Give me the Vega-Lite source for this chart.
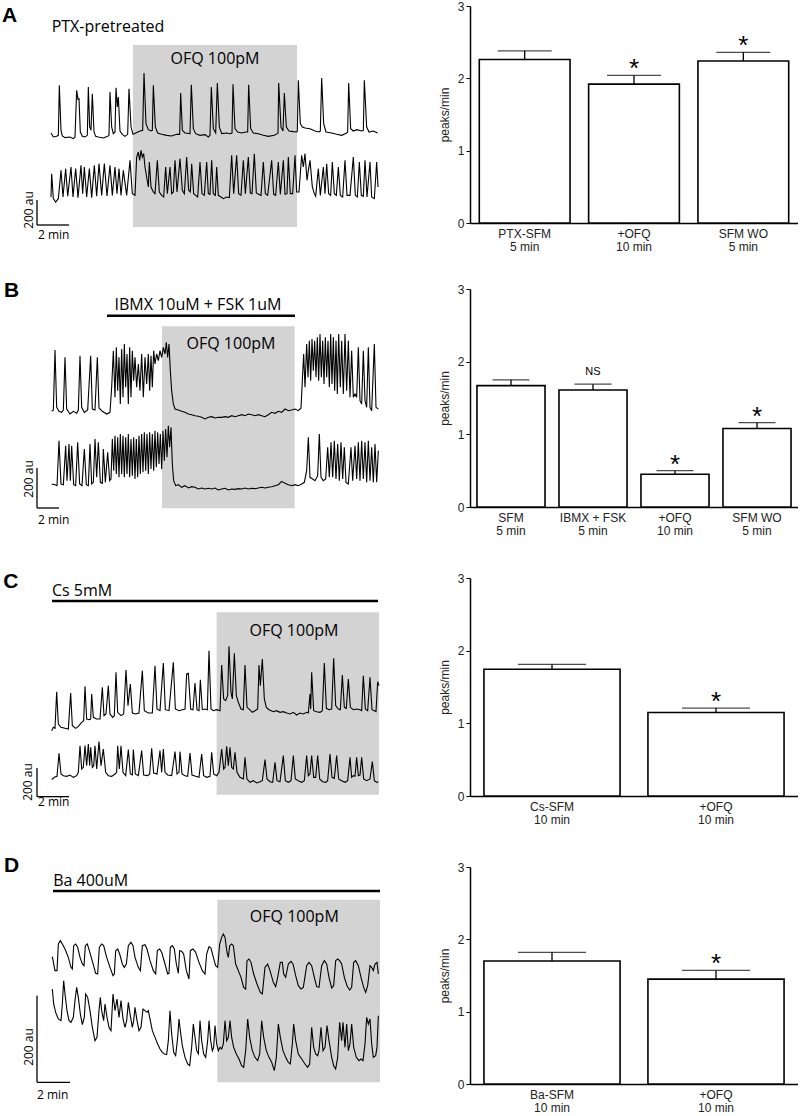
{
"$schema": "https://vega.github.io/schema/vega-lite/v6.json",
"padding": 0,
"bounds": "flush",
"columns": 2,
"spacing": {"row": 0, "column": 70},
"config": {"view": {"stroke": null}, "font": "Liberation Sans"},
"datasets": {
"a": [
{"s":1,"x":18,"y":222},{"s":1,"x":25,"y":210},{"s":1,"x":35,"y":212},{"s":1,"x":40,"y":215},{"s":1,"x":43,"y":365},{"s":1,"x":48,"y":230},{"s":1,"x":52,"y":213},{"s":1,"x":60,"y":208},{"s":1,"x":75,"y":210},{"s":1,"x":85,"y":205},{"s":1,"x":90,"y":210},{"s":1,"x":95,"y":350},{"s":1,"x":99,"y":323},{"s":1,"x":102,"y":325},{"s":1,"x":106,"y":225},{"s":1,"x":112,"y":212},{"s":1,"x":120,"y":210},{"s":1,"x":127,"y":215},{"s":1,"x":130,"y":360},{"s":1,"x":134,"y":240},{"s":1,"x":138,"y":230},{"s":1,"x":142,"y":340},{"s":1,"x":147,"y":225},{"s":1,"x":152,"y":212},{"s":1,"x":160,"y":210},{"s":1,"x":175,"y":207},{"s":1,"x":188,"y":212},{"s":1,"x":192,"y":215},{"s":1,"x":195,"y":345},{"s":1,"x":200,"y":240},{"s":1,"x":205,"y":220},{"s":1,"x":210,"y":225},{"s":1,"x":213,"y":358},{"s":1,"x":217,"y":300},{"s":1,"x":220,"y":330},{"s":1,"x":225,"y":228},{"s":1,"x":232,"y":218},{"s":1,"x":240,"y":212},{"s":1,"x":248,"y":218},{"s":1,"x":252,"y":355},{"s":1,"x":258,"y":240},{"s":1,"x":264,"y":218},{"s":1,"x":272,"y":222},{"s":1,"x":285,"y":228},{"s":1,"x":293,"y":230},{"s":1,"x":297,"y":402},{"s":1,"x":303,"y":250},{"s":1,"x":310,"y":232},{"s":1,"x":318,"y":228},{"s":1,"x":322,"y":230},{"s":1,"x":325,"y":365},{"s":1,"x":331,"y":240},{"s":1,"x":338,"y":222},{"s":1,"x":350,"y":218},{"s":1,"x":365,"y":215},{"s":1,"x":380,"y":213},{"s":1,"x":395,"y":218},{"s":1,"x":404,"y":218},{"s":1,"x":407,"y":342},{"s":1,"x":412,"y":230},{"s":1,"x":420,"y":222},{"s":1,"x":435,"y":220},{"s":1,"x":439,"y":367},{"s":1,"x":445,"y":235},{"s":1,"x":452,"y":220},{"s":1,"x":465,"y":215},{"s":1,"x":480,"y":217},{"s":1,"x":490,"y":210},{"s":1,"x":495,"y":215},{"s":1,"x":499,"y":360},{"s":1,"x":505,"y":235},{"s":1,"x":512,"y":222},{"s":1,"x":517,"y":372},{"s":1,"x":523,"y":240},{"s":1,"x":530,"y":220},{"s":1,"x":545,"y":222},{"s":1,"x":555,"y":220},{"s":1,"x":561,"y":222},{"s":1,"x":564,"y":368},{"s":1,"x":570,"y":235},{"s":1,"x":578,"y":225},{"s":1,"x":590,"y":222},{"s":1,"x":603,"y":225},{"s":1,"x":608,"y":225},{"s":1,"x":611,"y":367},{"s":1,"x":617,"y":235},{"s":1,"x":625,"y":222},{"s":1,"x":640,"y":220},{"s":1,"x":655,"y":215},{"s":1,"x":670,"y":212},{"s":1,"x":688,"y":215},{"s":1,"x":697,"y":220},{"s":1,"x":699,"y":222},{"s":1,"x":701,"y":372},{"s":1,"x":708,"y":240},{"s":1,"x":714,"y":228},{"s":1,"x":718,"y":342},{"s":1,"x":724,"y":240},{"s":1,"x":732,"y":228},{"s":1,"x":745,"y":226},{"s":1,"x":755,"y":225},{"s":1,"x":757,"y":228},{"s":1,"x":760,"y":380},{"s":1,"x":766,"y":250},{"s":1,"x":772,"y":240},{"s":1,"x":780,"y":237},{"s":1,"x":795,"y":235},{"s":1,"x":810,"y":228},{"s":1,"x":822,"y":225},{"s":1,"x":826,"y":228},{"s":1,"x":830,"y":387},{"s":1,"x":836,"y":250},{"s":1,"x":843,"y":225},{"s":1,"x":860,"y":222},{"s":1,"x":875,"y":218},{"s":1,"x":890,"y":215},{"s":1,"x":905,"y":222},{"s":1,"x":908,"y":225},{"s":1,"x":911,"y":372},{"s":1,"x":917,"y":235},{"s":1,"x":925,"y":228},{"s":1,"x":935,"y":232},{"s":1,"x":950,"y":228},{"s":1,"x":955,"y":230},{"s":1,"x":958,"y":380},{"s":1,"x":965,"y":240},{"s":1,"x":972,"y":225},{"s":1,"x":985,"y":228},{"s":1,"x":998,"y":222},
{"s":2,"x":18,"y":30},{"s":2,"x":20,"y":100},{"s":2,"x":25,"y":25},{"s":2,"x":32,"y":15},{"s":2,"x":40,"y":25},{"s":2,"x":48,"y":110},{"s":2,"x":54,"y":30},{"s":2,"x":62,"y":115},{"s":2,"x":68,"y":32},{"s":2,"x":78,"y":120},{"s":2,"x":84,"y":30},{"s":2,"x":92,"y":115},{"s":2,"x":99,"y":28},{"s":2,"x":108,"y":125},{"s":2,"x":113,"y":40},{"s":2,"x":118,"y":120},{"s":2,"x":125,"y":30},{"s":2,"x":133,"y":115},{"s":2,"x":140,"y":28},{"s":2,"x":148,"y":125},{"s":2,"x":155,"y":32},{"s":2,"x":162,"y":130},{"s":2,"x":170,"y":35},{"s":2,"x":178,"y":130},{"s":2,"x":186,"y":33},{"s":2,"x":195,"y":125},{"s":2,"x":202,"y":35},{"s":2,"x":210,"y":120},{"s":2,"x":216,"y":40},{"s":2,"x":222,"y":115},{"s":2,"x":228,"y":35},{"s":2,"x":235,"y":110},{"s":2,"x":245,"y":35},{"s":2,"x":255,"y":140},{"s":2,"x":262,"y":40},{"s":2,"x":270,"y":35},{"s":2,"x":275,"y":150},{"s":2,"x":280,"y":165},{"s":2,"x":284,"y":140},{"s":2,"x":288,"y":170},{"s":2,"x":292,"y":150},{"s":2,"x":296,"y":160},{"s":2,"x":300,"y":120},{"s":2,"x":305,"y":90},{"s":2,"x":310,"y":60},{"s":2,"x":313,"y":135},{"s":2,"x":318,"y":60},{"s":2,"x":325,"y":45},{"s":2,"x":330,"y":40},{"s":2,"x":337,"y":140},{"s":2,"x":343,"y":45},{"s":2,"x":350,"y":35},{"s":2,"x":356,"y":30},{"s":2,"x":362,"y":120},{"s":2,"x":367,"y":40},{"s":2,"x":375,"y":120},{"s":2,"x":380,"y":40},{"s":2,"x":385,"y":45},{"s":2,"x":390,"y":140},{"s":2,"x":396,"y":45},{"s":2,"x":405,"y":145},{"s":2,"x":412,"y":50},{"s":2,"x":418,"y":40},{"s":2,"x":425,"y":150},{"s":2,"x":431,"y":50},{"s":2,"x":436,"y":45},{"s":2,"x":440,"y":130},{"s":2,"x":446,"y":40},{"s":2,"x":452,"y":35},{"s":2,"x":458,"y":30},{"s":2,"x":465,"y":135},{"s":2,"x":471,"y":40},{"s":2,"x":478,"y":35},{"s":2,"x":485,"y":135},{"s":2,"x":490,"y":40},{"s":2,"x":495,"y":38},{"s":2,"x":500,"y":140},{"s":2,"x":505,"y":40},{"s":2,"x":511,"y":35},{"s":2,"x":515,"y":120},{"s":2,"x":520,"y":35},{"s":2,"x":528,"y":30},{"s":2,"x":535,"y":25},{"s":2,"x":545,"y":30},{"s":2,"x":553,"y":28},{"s":2,"x":560,"y":155},{"s":2,"x":566,"y":40},{"s":2,"x":575,"y":155},{"s":2,"x":581,"y":40},{"s":2,"x":588,"y":35},{"s":2,"x":595,"y":140},{"s":2,"x":601,"y":40},{"s":2,"x":610,"y":150},{"s":2,"x":616,"y":42},{"s":2,"x":621,"y":40},{"s":2,"x":628,"y":160},{"s":2,"x":634,"y":42},{"s":2,"x":641,"y":38},{"s":2,"x":648,"y":35},{"s":2,"x":655,"y":135},{"s":2,"x":661,"y":40},{"s":2,"x":668,"y":35},{"s":2,"x":680,"y":140},{"s":2,"x":686,"y":38},{"s":2,"x":692,"y":35},{"s":2,"x":700,"y":135},{"s":2,"x":706,"y":38},{"s":2,"x":715,"y":140},{"s":2,"x":720,"y":38},{"s":2,"x":726,"y":40},{"s":2,"x":730,"y":150},{"s":2,"x":736,"y":40},{"s":2,"x":743,"y":40},{"s":2,"x":750,"y":155},{"s":2,"x":755,"y":45},{"s":2,"x":762,"y":45},{"s":2,"x":770,"y":155},{"s":2,"x":775,"y":120},{"s":2,"x":780,"y":160},{"s":2,"x":786,"y":80},{"s":2,"x":790,"y":110},{"s":2,"x":795,"y":140},{"s":2,"x":802,"y":60},{"s":2,"x":808,"y":40},{"s":2,"x":812,"y":32},{"s":2,"x":820,"y":115},{"s":2,"x":826,"y":35},{"s":2,"x":835,"y":120},{"s":2,"x":840,"y":40},{"s":2,"x":845,"y":130},{"s":2,"x":851,"y":40},{"s":2,"x":857,"y":35},{"s":2,"x":862,"y":135},{"s":2,"x":868,"y":40},{"s":2,"x":874,"y":35},{"s":2,"x":880,"y":120},{"s":2,"x":886,"y":35},{"s":2,"x":893,"y":30},{"s":2,"x":900,"y":140},{"s":2,"x":906,"y":35},{"s":2,"x":915,"y":35},{"s":2,"x":925,"y":150},{"s":2,"x":931,"y":35},{"s":2,"x":937,"y":30},{"s":2,"x":943,"y":135},{"s":2,"x":949,"y":35},{"s":2,"x":955,"y":32},{"s":2,"x":960,"y":140},{"s":2,"x":966,"y":30},{"s":2,"x":975,"y":135},{"s":2,"x":980,"y":30},{"s":2,"x":988,"y":25},{"s":2,"x":995,"y":135},{"s":2,"x":999,"y":60}
],
"b": [
{"s":1,"x":20,"y":258},{"s":1,"x":25,"y":262},{"s":1,"x":30,"y":442},{"s":1,"x":35,"y":270},{"s":1,"x":42,"y":258},{"s":1,"x":50,"y":255},{"s":1,"x":55,"y":262},{"s":1,"x":60,"y":420},{"s":1,"x":65,"y":265},{"s":1,"x":75,"y":250},{"s":1,"x":85,"y":258},{"s":1,"x":95,"y":252},{"s":1,"x":100,"y":262},{"s":1,"x":105,"y":425},{"s":1,"x":110,"y":270},{"s":1,"x":118,"y":255},{"s":1,"x":128,"y":262},{"s":1,"x":137,"y":425},{"s":1,"x":142,"y":265},{"s":1,"x":150,"y":262},{"s":1,"x":157,"y":420},{"s":1,"x":162,"y":268},{"s":1,"x":172,"y":258},{"s":1,"x":185,"y":250},{"s":1,"x":195,"y":255},{"s":1,"x":200,"y":330},{"s":1,"x":205,"y":440},{"s":1,"x":210,"y":300},{"s":1,"x":214,"y":450},{"s":1,"x":218,"y":320},{"s":1,"x":222,"y":420},{"s":1,"x":226,"y":280},{"s":1,"x":230,"y":445},{"s":1,"x":234,"y":300},{"s":1,"x":238,"y":460},{"s":1,"x":242,"y":330},{"s":1,"x":246,"y":430},{"s":1,"x":250,"y":280},{"s":1,"x":254,"y":450},{"s":1,"x":258,"y":300},{"s":1,"x":262,"y":440},{"s":1,"x":266,"y":350},{"s":1,"x":270,"y":420},{"s":1,"x":275,"y":330},{"s":1,"x":280,"y":400},{"s":1,"x":285,"y":320},{"s":1,"x":290,"y":430},{"s":1,"x":295,"y":300},{"s":1,"x":300,"y":420},{"s":1,"x":305,"y":340},{"s":1,"x":310,"y":430},{"s":1,"x":314,"y":320},{"s":1,"x":318,"y":425},{"s":1,"x":322,"y":330},{"s":1,"x":326,"y":440},{"s":1,"x":330,"y":400},{"s":1,"x":335,"y":430},{"s":1,"x":340,"y":410},{"s":1,"x":345,"y":440},{"s":1,"x":350,"y":420},{"s":1,"x":355,"y":450},{"s":1,"x":360,"y":430},{"s":1,"x":364,"y":465},{"s":1,"x":368,"y":420},{"s":1,"x":372,"y":460},{"s":1,"x":376,"y":380},{"s":1,"x":380,"y":320},{"s":1,"x":385,"y":280},{"s":1,"x":390,"y":265},{"s":1,"x":400,"y":262},{"s":1,"x":410,"y":258},{"s":1,"x":420,"y":255},{"s":1,"x":430,"y":250},{"s":1,"x":440,"y":248},{"s":1,"x":450,"y":245},{"s":1,"x":460,"y":243},{"s":1,"x":470,"y":240},{"s":1,"x":480,"y":235},{"s":1,"x":490,"y":240},{"s":1,"x":500,"y":242},{"s":1,"x":510,"y":238},{"s":1,"x":520,"y":240},{"s":1,"x":530,"y":240},{"s":1,"x":540,"y":242},{"s":1,"x":550,"y":240},{"s":1,"x":560,"y":245},{"s":1,"x":570,"y":242},{"s":1,"x":580,"y":245},{"s":1,"x":590,"y":248},{"s":1,"x":600,"y":245},{"s":1,"x":610,"y":250},{"s":1,"x":620,"y":248},{"s":1,"x":630,"y":245},{"s":1,"x":640,"y":248},{"s":1,"x":650,"y":245},{"s":1,"x":660,"y":242},{"s":1,"x":670,"y":248},{"s":1,"x":680,"y":255},{"s":1,"x":690,"y":252},{"s":1,"x":700,"y":258},{"s":1,"x":710,"y":255},{"s":1,"x":720,"y":265},{"s":1,"x":730,"y":260},{"s":1,"x":740,"y":262},{"s":1,"x":750,"y":265},{"s":1,"x":760,"y":260},{"s":1,"x":768,"y":268},{"s":1,"x":772,"y":350},{"s":1,"x":776,"y":430},{"s":1,"x":780,"y":330},{"s":1,"x":785,"y":460},{"s":1,"x":789,"y":360},{"s":1,"x":793,"y":470},{"s":1,"x":797,"y":350},{"s":1,"x":801,"y":475},{"s":1,"x":805,"y":380},{"s":1,"x":809,"y":470},{"s":1,"x":813,"y":360},{"s":1,"x":817,"y":480},{"s":1,"x":821,"y":350},{"s":1,"x":825,"y":490},{"s":1,"x":829,"y":360},{"s":1,"x":833,"y":470},{"s":1,"x":837,"y":340},{"s":1,"x":841,"y":480},{"s":1,"x":845,"y":360},{"s":1,"x":849,"y":470},{"s":1,"x":853,"y":330},{"s":1,"x":857,"y":490},{"s":1,"x":861,"y":340},{"s":1,"x":865,"y":480},{"s":1,"x":869,"y":320},{"s":1,"x":873,"y":470},{"s":1,"x":877,"y":310},{"s":1,"x":881,"y":490},{"s":1,"x":886,"y":330},{"s":1,"x":890,"y":470},{"s":1,"x":895,"y":310},{"s":1,"x":900,"y":490},{"s":1,"x":905,"y":320},{"s":1,"x":910,"y":470},{"s":1,"x":915,"y":300},{"s":1,"x":920,"y":440},{"s":1,"x":925,"y":300},{"s":1,"x":930,"y":310},{"s":1,"x":935,"y":300},{"s":1,"x":940,"y":450},{"s":1,"x":945,"y":290},{"s":1,"x":950,"y":280},{"s":1,"x":955,"y":440},{"s":1,"x":960,"y":290},{"s":1,"x":965,"y":270},{"s":1,"x":970,"y":450},{"s":1,"x":975,"y":270},{"s":1,"x":980,"y":260},{"s":1,"x":988,"y":460},{"s":1,"x":993,"y":270},{"s":1,"x":1000,"y":265},
{"s":2,"x":20,"y":40},{"s":2,"x":30,"y":38},{"s":2,"x":36,"y":35},{"s":2,"x":42,"y":170},{"s":2,"x":48,"y":40},{"s":2,"x":55,"y":38},{"s":2,"x":62,"y":155},{"s":2,"x":66,"y":50},{"s":2,"x":72,"y":160},{"s":2,"x":76,"y":50},{"s":2,"x":80,"y":155},{"s":2,"x":86,"y":38},{"s":2,"x":92,"y":35},{"s":2,"x":98,"y":165},{"s":2,"x":104,"y":40},{"s":2,"x":111,"y":35},{"s":2,"x":118,"y":145},{"s":2,"x":124,"y":38},{"s":2,"x":130,"y":35},{"s":2,"x":135,"y":160},{"s":2,"x":140,"y":40},{"s":2,"x":145,"y":45},{"s":2,"x":150,"y":175},{"s":2,"x":155,"y":60},{"s":2,"x":160,"y":165},{"s":2,"x":166,"y":45},{"s":2,"x":172,"y":42},{"s":2,"x":175,"y":145},{"s":2,"x":181,"y":45},{"s":2,"x":188,"y":135},{"s":2,"x":194,"y":50},{"s":2,"x":198,"y":55},{"s":2,"x":202,"y":175},{"s":2,"x":206,"y":80},{"s":2,"x":210,"y":185},{"s":2,"x":214,"y":70},{"s":2,"x":218,"y":180},{"s":2,"x":222,"y":60},{"s":2,"x":226,"y":190},{"s":2,"x":230,"y":70},{"s":2,"x":234,"y":185},{"s":2,"x":238,"y":60},{"s":2,"x":242,"y":180},{"s":2,"x":246,"y":70},{"s":2,"x":250,"y":190},{"s":2,"x":254,"y":60},{"s":2,"x":258,"y":175},{"s":2,"x":262,"y":65},{"s":2,"x":266,"y":180},{"s":2,"x":270,"y":55},{"s":2,"x":274,"y":175},{"s":2,"x":278,"y":60},{"s":2,"x":282,"y":185},{"s":2,"x":286,"y":70},{"s":2,"x":290,"y":190},{"s":2,"x":294,"y":75},{"s":2,"x":298,"y":195},{"s":2,"x":302,"y":80},{"s":2,"x":306,"y":190},{"s":2,"x":310,"y":70},{"s":2,"x":314,"y":195},{"s":2,"x":318,"y":85},{"s":2,"x":322,"y":190},{"s":2,"x":326,"y":80},{"s":2,"x":330,"y":200},{"s":2,"x":334,"y":90},{"s":2,"x":338,"y":195},{"s":2,"x":342,"y":100},{"s":2,"x":346,"y":190},{"s":2,"x":350,"y":85},{"s":2,"x":354,"y":200},{"s":2,"x":358,"y":110},{"s":2,"x":362,"y":205},{"s":2,"x":366,"y":120},{"s":2,"x":370,"y":215},{"s":2,"x":374,"y":150},{"s":2,"x":378,"y":210},{"s":2,"x":382,"y":100},{"s":2,"x":386,"y":50},{"s":2,"x":392,"y":35},{"s":2,"x":400,"y":38},{"s":2,"x":410,"y":30},{"s":2,"x":420,"y":35},{"s":2,"x":430,"y":28},{"s":2,"x":440,"y":32},{"s":2,"x":450,"y":30},{"s":2,"x":460,"y":25},{"s":2,"x":470,"y":28},{"s":2,"x":480,"y":25},{"s":2,"x":490,"y":27},{"s":2,"x":500,"y":25},{"s":2,"x":510,"y":28},{"s":2,"x":520,"y":22},{"s":2,"x":530,"y":25},{"s":2,"x":540,"y":27},{"s":2,"x":550,"y":22},{"s":2,"x":560,"y":25},{"s":2,"x":570,"y":24},{"s":2,"x":580,"y":26},{"s":2,"x":590,"y":25},{"s":2,"x":600,"y":28},{"s":2,"x":610,"y":25},{"s":2,"x":620,"y":27},{"s":2,"x":630,"y":26},{"s":2,"x":640,"y":28},{"s":2,"x":650,"y":30},{"s":2,"x":660,"y":28},{"s":2,"x":670,"y":30},{"s":2,"x":680,"y":32},{"s":2,"x":690,"y":35},{"s":2,"x":700,"y":38},{"s":2,"x":710,"y":48},{"s":2,"x":720,"y":42},{"s":2,"x":730,"y":38},{"s":2,"x":740,"y":35},{"s":2,"x":750,"y":38},{"s":2,"x":760,"y":35},{"s":2,"x":770,"y":40},{"s":2,"x":778,"y":45},{"s":2,"x":785,"y":80},{"s":2,"x":790,"y":180},{"s":2,"x":795,"y":60},{"s":2,"x":803,"y":55},{"s":2,"x":810,"y":50},{"s":2,"x":818,"y":65},{"s":2,"x":823,"y":190},{"s":2,"x":828,"y":60},{"s":2,"x":835,"y":50},{"s":2,"x":842,"y":55},{"s":2,"x":848,"y":150},{"s":2,"x":853,"y":60},{"s":2,"x":858,"y":165},{"s":2,"x":863,"y":60},{"s":2,"x":868,"y":170},{"s":2,"x":873,"y":55},{"s":2,"x":878,"y":160},{"s":2,"x":883,"y":50},{"s":2,"x":888,"y":165},{"s":2,"x":893,"y":55},{"s":2,"x":898,"y":150},{"s":2,"x":903,"y":45},{"s":2,"x":910,"y":40},{"s":2,"x":918,"y":150},{"s":2,"x":923,"y":50},{"s":2,"x":930,"y":155},{"s":2,"x":935,"y":55},{"s":2,"x":940,"y":165},{"s":2,"x":945,"y":50},{"s":2,"x":950,"y":170},{"s":2,"x":955,"y":55},{"s":2,"x":960,"y":165},{"s":2,"x":965,"y":45},{"s":2,"x":970,"y":170},{"s":2,"x":975,"y":50},{"s":2,"x":980,"y":150},{"s":2,"x":985,"y":45},{"s":2,"x":990,"y":160},{"s":2,"x":995,"y":45},{"s":2,"x":1000,"y":140}
],
"c": [
{"s":1,"x":20,"y":165},{"s":1,"x":25,"y":175},{"s":1,"x":30,"y":172},{"s":1,"x":35,"y":282},{"s":1,"x":40,"y":185},{"s":1,"x":48,"y":175},{"s":1,"x":60,"y":172},{"s":1,"x":70,"y":170},{"s":1,"x":77,"y":278},{"s":1,"x":82,"y":180},{"s":1,"x":92,"y":172},{"s":1,"x":100,"y":178},{"s":1,"x":110,"y":190},{"s":1,"x":116,"y":195},{"s":1,"x":120,"y":298},{"s":1,"x":125,"y":200},{"s":1,"x":132,"y":198},{"s":1,"x":137,"y":200},{"s":1,"x":140,"y":275},{"s":1,"x":145,"y":205},{"s":1,"x":155,"y":200},{"s":1,"x":165,"y":200},{"s":1,"x":172,"y":295},{"s":1,"x":177,"y":210},{"s":1,"x":183,"y":215},{"s":1,"x":190,"y":300},{"s":1,"x":195,"y":215},{"s":1,"x":203,"y":205},{"s":1,"x":208,"y":210},{"s":1,"x":213,"y":340},{"s":1,"x":218,"y":220},{"s":1,"x":228,"y":210},{"s":1,"x":236,"y":215},{"s":1,"x":243,"y":347},{"s":1,"x":249,"y":240},{"s":1,"x":256,"y":305},{"s":1,"x":262,"y":218},{"s":1,"x":272,"y":215},{"s":1,"x":282,"y":218},{"s":1,"x":292,"y":345},{"s":1,"x":298,"y":225},{"s":1,"x":310,"y":218},{"s":1,"x":322,"y":218},{"s":1,"x":330,"y":360},{"s":1,"x":336,"y":230},{"s":1,"x":345,"y":225},{"s":1,"x":355,"y":368},{"s":1,"x":361,"y":228},{"s":1,"x":372,"y":225},{"s":1,"x":385,"y":370},{"s":1,"x":391,"y":230},{"s":1,"x":402,"y":225},{"s":1,"x":412,"y":228},{"s":1,"x":420,"y":230},{"s":1,"x":425,"y":335},{"s":1,"x":430,"y":337},{"s":1,"x":437,"y":230},{"s":1,"x":444,"y":228},{"s":1,"x":450,"y":308},{"s":1,"x":456,"y":228},{"s":1,"x":462,"y":225},{"s":1,"x":466,"y":318},{"s":1,"x":472,"y":228},{"s":1,"x":480,"y":230},{"s":1,"x":487,"y":228},{"s":1,"x":492,"y":405},{"s":1,"x":498,"y":230},{"s":1,"x":505,"y":225},{"s":1,"x":515,"y":228},{"s":1,"x":525,"y":225},{"s":1,"x":530,"y":362},{"s":1,"x":536,"y":260},{"s":1,"x":542,"y":255},{"s":1,"x":548,"y":270},{"s":1,"x":552,"y":418},{"s":1,"x":558,"y":280},{"s":1,"x":562,"y":260},{"s":1,"x":568,"y":397},{"s":1,"x":574,"y":270},{"s":1,"x":580,"y":250},{"s":1,"x":588,"y":230},{"s":1,"x":595,"y":228},{"s":1,"x":600,"y":362},{"s":1,"x":606,"y":235},{"s":1,"x":614,"y":228},{"s":1,"x":622,"y":220},{"s":1,"x":630,"y":225},{"s":1,"x":638,"y":230},{"s":1,"x":642,"y":362},{"s":1,"x":646,"y":300},{"s":1,"x":652,"y":380},{"s":1,"x":658,"y":260},{"s":1,"x":664,"y":235},{"s":1,"x":672,"y":228},{"s":1,"x":685,"y":222},{"s":1,"x":695,"y":225},{"s":1,"x":705,"y":220},{"s":1,"x":715,"y":222},{"s":1,"x":725,"y":218},{"s":1,"x":735,"y":215},{"s":1,"x":745,"y":220},{"s":1,"x":755,"y":212},{"s":1,"x":765,"y":218},{"s":1,"x":775,"y":215},{"s":1,"x":785,"y":220},{"s":1,"x":790,"y":218},{"s":1,"x":795,"y":275},{"s":1,"x":797,"y":230},{"s":1,"x":800,"y":340},{"s":1,"x":806,"y":225},{"s":1,"x":815,"y":222},{"s":1,"x":825,"y":220},{"s":1,"x":832,"y":225},{"s":1,"x":838,"y":368},{"s":1,"x":844,"y":232},{"s":1,"x":852,"y":228},{"s":1,"x":860,"y":230},{"s":1,"x":866,"y":382},{"s":1,"x":872,"y":240},{"s":1,"x":880,"y":230},{"s":1,"x":886,"y":228},{"s":1,"x":892,"y":332},{"s":1,"x":898,"y":235},{"s":1,"x":904,"y":232},{"s":1,"x":910,"y":320},{"s":1,"x":916,"y":235},{"s":1,"x":925,"y":228},{"s":1,"x":935,"y":230},{"s":1,"x":945,"y":228},{"s":1,"x":950,"y":225},{"s":1,"x":955,"y":330},{"s":1,"x":961,"y":230},{"s":1,"x":968,"y":225},{"s":1,"x":975,"y":325},{"s":1,"x":981,"y":228},{"s":1,"x":988,"y":225},{"s":1,"x":993,"y":222},{"s":1,"x":998,"y":312},{"s":1,"x":1002,"y":300},
{"s":2,"x":20,"y":18},{"s":2,"x":28,"y":25},{"s":2,"x":36,"y":28},{"s":2,"x":42,"y":97},{"s":2,"x":48,"y":35},{"s":2,"x":55,"y":30},{"s":2,"x":65,"y":28},{"s":2,"x":75,"y":32},{"s":2,"x":85,"y":25},{"s":2,"x":95,"y":30},{"s":2,"x":100,"y":40},{"s":2,"x":105,"y":120},{"s":2,"x":110,"y":50},{"s":2,"x":115,"y":55},{"s":2,"x":120,"y":120},{"s":2,"x":125,"y":60},{"s":2,"x":130,"y":125},{"s":2,"x":134,"y":60},{"s":2,"x":137,"y":115},{"s":2,"x":142,"y":55},{"s":2,"x":146,"y":60},{"s":2,"x":150,"y":120},{"s":2,"x":155,"y":50},{"s":2,"x":162,"y":132},{"s":2,"x":168,"y":60},{"s":2,"x":175,"y":110},{"s":2,"x":182,"y":40},{"s":2,"x":190,"y":30},{"s":2,"x":200,"y":28},{"s":2,"x":210,"y":35},{"s":2,"x":215,"y":40},{"s":2,"x":218,"y":120},{"s":2,"x":223,"y":50},{"s":2,"x":228,"y":120},{"s":2,"x":234,"y":40},{"s":2,"x":242,"y":30},{"s":2,"x":250,"y":108},{"s":2,"x":256,"y":35},{"s":2,"x":262,"y":32},{"s":2,"x":265,"y":108},{"s":2,"x":271,"y":35},{"s":2,"x":280,"y":30},{"s":2,"x":290,"y":105},{"s":2,"x":296,"y":32},{"s":2,"x":308,"y":30},{"s":2,"x":314,"y":35},{"s":2,"x":320,"y":112},{"s":2,"x":326,"y":38},{"s":2,"x":336,"y":35},{"s":2,"x":345,"y":105},{"s":2,"x":350,"y":40},{"s":2,"x":355,"y":110},{"s":2,"x":360,"y":40},{"s":2,"x":368,"y":32},{"s":2,"x":380,"y":30},{"s":2,"x":390,"y":102},{"s":2,"x":396,"y":35},{"s":2,"x":402,"y":40},{"s":2,"x":405,"y":102},{"s":2,"x":411,"y":35},{"s":2,"x":420,"y":30},{"s":2,"x":428,"y":28},{"s":2,"x":435,"y":98},{"s":2,"x":441,"y":32},{"s":2,"x":452,"y":28},{"s":2,"x":462,"y":25},{"s":2,"x":470,"y":95},{"s":2,"x":476,"y":30},{"s":2,"x":485,"y":25},{"s":2,"x":495,"y":28},{"s":2,"x":500,"y":100},{"s":2,"x":506,"y":35},{"s":2,"x":515,"y":30},{"s":2,"x":522,"y":40},{"s":2,"x":530,"y":110},{"s":2,"x":536,"y":50},{"s":2,"x":540,"y":55},{"s":2,"x":545,"y":118},{"s":2,"x":550,"y":60},{"s":2,"x":555,"y":115},{"s":2,"x":560,"y":55},{"s":2,"x":565,"y":50},{"s":2,"x":570,"y":100},{"s":2,"x":576,"y":40},{"s":2,"x":585,"y":25},{"s":2,"x":595,"y":20},{"s":2,"x":600,"y":85},{"s":2,"x":606,"y":20},{"s":2,"x":615,"y":10},{"s":2,"x":625,"y":15},{"s":2,"x":635,"y":8},{"s":2,"x":645,"y":12},{"s":2,"x":652,"y":15},{"s":2,"x":660,"y":78},{"s":2,"x":666,"y":20},{"s":2,"x":675,"y":12},{"s":2,"x":683,"y":10},{"s":2,"x":690,"y":70},{"s":2,"x":696,"y":15},{"s":2,"x":705,"y":12},{"s":2,"x":715,"y":90},{"s":2,"x":721,"y":15},{"s":2,"x":730,"y":10},{"s":2,"x":738,"y":15},{"s":2,"x":745,"y":90},{"s":2,"x":751,"y":20},{"s":2,"x":760,"y":15},{"s":2,"x":770,"y":10},{"s":2,"x":778,"y":15},{"s":2,"x":785,"y":90},{"s":2,"x":790,"y":30},{"s":2,"x":795,"y":35},{"s":2,"x":800,"y":90},{"s":2,"x":806,"y":25},{"s":2,"x":812,"y":25},{"s":2,"x":818,"y":90},{"s":2,"x":824,"y":20},{"s":2,"x":833,"y":12},{"s":2,"x":842,"y":10},{"s":2,"x":848,"y":15},{"s":2,"x":855,"y":95},{"s":2,"x":861,"y":25},{"s":2,"x":868,"y":22},{"s":2,"x":875,"y":90},{"s":2,"x":881,"y":20},{"s":2,"x":890,"y":15},{"s":2,"x":900,"y":10},{"s":2,"x":908,"y":15},{"s":2,"x":915,"y":85},{"s":2,"x":920,"y":25},{"s":2,"x":925,"y":30},{"s":2,"x":930,"y":28},{"s":2,"x":935,"y":85},{"s":2,"x":940,"y":30},{"s":2,"x":945,"y":32},{"s":2,"x":950,"y":85},{"s":2,"x":956,"y":20},{"s":2,"x":965,"y":15},{"s":2,"x":975,"y":20},{"s":2,"x":982,"y":72},{"s":2,"x":988,"y":15},{"s":2,"x":995,"y":10},{"s":2,"x":1000,"y":12}
],
"d": [
{"s":1,"x":22,"y":362},{"s":1,"x":30,"y":320},{"s":1,"x":36,"y":320},{"s":1,"x":40,"y":400},{"s":1,"x":46,"y":410},{"s":1,"x":52,"y":400},{"s":1,"x":60,"y":385},{"s":1,"x":70,"y":360},{"s":1,"x":78,"y":330},{"s":1,"x":82,"y":325},{"s":1,"x":86,"y":395},{"s":1,"x":92,"y":400},{"s":1,"x":98,"y":390},{"s":1,"x":105,"y":360},{"s":1,"x":112,"y":340},{"s":1,"x":117,"y":335},{"s":1,"x":121,"y":395},{"s":1,"x":127,"y":400},{"s":1,"x":133,"y":380},{"s":1,"x":143,"y":345},{"s":1,"x":152,"y":312},{"s":1,"x":158,"y":310},{"s":1,"x":163,"y":390},{"s":1,"x":170,"y":400},{"s":1,"x":176,"y":395},{"s":1,"x":185,"y":360},{"s":1,"x":195,"y":330},{"s":1,"x":204,"y":305},{"s":1,"x":208,"y":310},{"s":1,"x":212,"y":380},{"s":1,"x":218,"y":385},{"s":1,"x":224,"y":370},{"s":1,"x":232,"y":340},{"s":1,"x":238,"y":330},{"s":1,"x":244,"y":340},{"s":1,"x":250,"y":395},{"s":1,"x":258,"y":405},{"s":1,"x":264,"y":395},{"s":1,"x":270,"y":360},{"s":1,"x":280,"y":330},{"s":1,"x":286,"y":320},{"s":1,"x":292,"y":395},{"s":1,"x":300,"y":398},{"s":1,"x":306,"y":385},{"s":1,"x":315,"y":350},{"s":1,"x":325,"y":320},{"s":1,"x":332,"y":310},{"s":1,"x":337,"y":380},{"s":1,"x":344,"y":385},{"s":1,"x":350,"y":375},{"s":1,"x":360,"y":340},{"s":1,"x":368,"y":310},{"s":1,"x":372,"y":312},{"s":1,"x":376,"y":390},{"s":1,"x":382,"y":395},{"s":1,"x":388,"y":385},{"s":1,"x":394,"y":340},{"s":1,"x":400,"y":312},{"s":1,"x":404,"y":380},{"s":1,"x":410,"y":378},{"s":1,"x":416,"y":370},{"s":1,"x":424,"y":320},{"s":1,"x":432,"y":295},{"s":1,"x":436,"y":380},{"s":1,"x":444,"y":385},{"s":1,"x":452,"y":375},{"s":1,"x":462,"y":345},{"s":1,"x":472,"y":320},{"s":1,"x":480,"y":310},{"s":1,"x":485,"y":370},{"s":1,"x":492,"y":392},{"s":1,"x":498,"y":388},{"s":1,"x":505,"y":360},{"s":1,"x":512,"y":335},{"s":1,"x":518,"y":330},{"s":1,"x":524,"y":400},{"s":1,"x":530,"y":420},{"s":1,"x":535,"y":430},{"s":1,"x":540,"y":420},{"s":1,"x":546,"y":375},{"s":1,"x":550,"y":360},{"s":1,"x":554,"y":395},{"s":1,"x":560,"y":400},{"s":1,"x":565,"y":395},{"s":1,"x":572,"y":340},{"s":1,"x":580,"y":320},{"s":1,"x":588,"y":300},{"s":1,"x":596,"y":270},{"s":1,"x":602,"y":265},{"s":1,"x":606,"y":350},{"s":1,"x":612,"y":355},{"s":1,"x":618,"y":345},{"s":1,"x":626,"y":310},{"s":1,"x":636,"y":280},{"s":1,"x":646,"y":255},{"s":1,"x":652,"y":250},{"s":1,"x":660,"y":330},{"s":1,"x":668,"y":340},{"s":1,"x":675,"y":320},{"s":1,"x":685,"y":285},{"s":1,"x":692,"y":272},{"s":1,"x":698,"y":300},{"s":1,"x":706,"y":345},{"s":1,"x":712,"y":345},{"s":1,"x":716,"y":310},{"s":1,"x":722,"y":300},{"s":1,"x":730,"y":340},{"s":1,"x":738,"y":348},{"s":1,"x":744,"y":340},{"s":1,"x":752,"y":305},{"s":1,"x":760,"y":275},{"s":1,"x":768,"y":265},{"s":1,"x":775,"y":270},{"s":1,"x":785,"y":335},{"s":1,"x":792,"y":345},{"s":1,"x":800,"y":335},{"s":1,"x":808,"y":300},{"s":1,"x":815,"y":272},{"s":1,"x":822,"y":270},{"s":1,"x":830,"y":335},{"s":1,"x":838,"y":350},{"s":1,"x":845,"y":340},{"s":1,"x":852,"y":300},{"s":1,"x":860,"y":268},{"s":1,"x":866,"y":275},{"s":1,"x":872,"y":350},{"s":1,"x":878,"y":355},{"s":1,"x":884,"y":350},{"s":1,"x":890,"y":340},{"s":1,"x":898,"y":300},{"s":1,"x":906,"y":275},{"s":1,"x":914,"y":262},{"s":1,"x":920,"y":270},{"s":1,"x":926,"y":345},{"s":1,"x":932,"y":350},{"s":1,"x":940,"y":335},{"s":1,"x":948,"y":300},{"s":1,"x":956,"y":270},{"s":1,"x":962,"y":255},{"s":1,"x":968,"y":275},{"s":1,"x":975,"y":335},{"s":1,"x":980,"y":330},{"s":1,"x":985,"y":320},{"s":1,"x":990,"y":340},{"s":1,"x":996,"y":345},{"s":1,"x":1000,"y":310},
{"s":2,"x":22,"y":265},{"s":2,"x":26,"y":220},{"s":2,"x":32,"y":195},{"s":2,"x":40,"y":175},{"s":2,"x":48,"y":170},{"s":2,"x":52,"y":220},{"s":2,"x":56,"y":290},{"s":2,"x":60,"y":250},{"s":2,"x":66,"y":200},{"s":2,"x":72,"y":170},{"s":2,"x":78,"y":165},{"s":2,"x":85,"y":180},{"s":2,"x":90,"y":230},{"s":2,"x":95,"y":270},{"s":2,"x":100,"y":240},{"s":2,"x":106,"y":190},{"s":2,"x":112,"y":158},{"s":2,"x":118,"y":180},{"s":2,"x":122,"y":250},{"s":2,"x":128,"y":240},{"s":2,"x":135,"y":200},{"s":2,"x":142,"y":150},{"s":2,"x":150,"y":110},{"s":2,"x":156,"y":120},{"s":2,"x":162,"y":200},{"s":2,"x":166,"y":240},{"s":2,"x":170,"y":200},{"s":2,"x":176,"y":170},{"s":2,"x":180,"y":220},{"s":2,"x":186,"y":180},{"s":2,"x":192,"y":150},{"s":2,"x":198,"y":140},{"s":2,"x":204,"y":250},{"s":2,"x":210,"y":200},{"s":2,"x":216,"y":235},{"s":2,"x":222,"y":180},{"s":2,"x":228,"y":230},{"s":2,"x":234,"y":175},{"s":2,"x":240,"y":150},{"s":2,"x":245,"y":170},{"s":2,"x":250,"y":225},{"s":2,"x":256,"y":185},{"s":2,"x":262,"y":150},{"s":2,"x":266,"y":170},{"s":2,"x":270,"y":210},{"s":2,"x":276,"y":170},{"s":2,"x":282,"y":140},{"s":2,"x":288,"y":150},{"s":2,"x":294,"y":205},{"s":2,"x":300,"y":200},{"s":2,"x":306,"y":195},{"s":2,"x":310,"y":200},{"s":2,"x":316,"y":170},{"s":2,"x":322,"y":140},{"s":2,"x":330,"y":120},{"s":2,"x":338,"y":100},{"s":2,"x":345,"y":85},{"s":2,"x":352,"y":75},{"s":2,"x":358,"y":70},{"s":2,"x":365,"y":68},{"s":2,"x":370,"y":110},{"s":2,"x":375,"y":200},{"s":2,"x":380,"y":130},{"s":2,"x":386,"y":75},{"s":2,"x":392,"y":65},{"s":2,"x":398,"y":120},{"s":2,"x":402,"y":175},{"s":2,"x":406,"y":140},{"s":2,"x":412,"y":95},{"s":2,"x":420,"y":60},{"s":2,"x":428,"y":40},{"s":2,"x":434,"y":35},{"s":2,"x":440,"y":90},{"s":2,"x":445,"y":160},{"s":2,"x":450,"y":120},{"s":2,"x":455,"y":80},{"s":2,"x":460,"y":70},{"s":2,"x":465,"y":170},{"s":2,"x":470,"y":110},{"s":2,"x":476,"y":70},{"s":2,"x":482,"y":60},{"s":2,"x":488,"y":110},{"s":2,"x":492,"y":170},{"s":2,"x":497,"y":110},{"s":2,"x":502,"y":80},{"s":2,"x":506,"y":90},{"s":2,"x":510,"y":155},{"s":2,"x":515,"y":100},{"s":2,"x":520,"y":80},{"s":2,"x":525,"y":90},{"s":2,"x":530,"y":85},{"s":2,"x":535,"y":100},{"s":2,"x":540,"y":170},{"s":2,"x":545,"y":110},{"s":2,"x":550,"y":120},{"s":2,"x":555,"y":170},{"s":2,"x":560,"y":120},{"s":2,"x":566,"y":90},{"s":2,"x":574,"y":70},{"s":2,"x":582,"y":55},{"s":2,"x":590,"y":35},{"s":2,"x":596,"y":30},{"s":2,"x":602,"y":80},{"s":2,"x":608,"y":175},{"s":2,"x":614,"y":120},{"s":2,"x":622,"y":80},{"s":2,"x":630,"y":60},{"s":2,"x":638,"y":50},{"s":2,"x":644,"y":70},{"s":2,"x":650,"y":170},{"s":2,"x":656,"y":120},{"s":2,"x":664,"y":80},{"s":2,"x":672,"y":60},{"s":2,"x":680,"y":45},{"s":2,"x":688,"y":20},{"s":2,"x":694,"y":60},{"s":2,"x":700,"y":160},{"s":2,"x":706,"y":120},{"s":2,"x":714,"y":80},{"s":2,"x":722,"y":60},{"s":2,"x":730,"y":45},{"s":2,"x":736,"y":40},{"s":2,"x":742,"y":100},{"s":2,"x":746,"y":160},{"s":2,"x":752,"y":110},{"s":2,"x":760,"y":70},{"s":2,"x":770,"y":55},{"s":2,"x":780,"y":40},{"s":2,"x":788,"y":30},{"s":2,"x":794,"y":40},{"s":2,"x":800,"y":150},{"s":2,"x":806,"y":90},{"s":2,"x":812,"y":70},{"s":2,"x":818,"y":65},{"s":2,"x":822,"y":80},{"s":2,"x":828,"y":150},{"s":2,"x":834,"y":80},{"s":2,"x":840,"y":90},{"s":2,"x":846,"y":155},{"s":2,"x":852,"y":110},{"s":2,"x":860,"y":60},{"s":2,"x":866,"y":35},{"s":2,"x":872,"y":25},{"s":2,"x":878,"y":60},{"s":2,"x":884,"y":165},{"s":2,"x":890,"y":110},{"s":2,"x":894,"y":165},{"s":2,"x":900,"y":90},{"s":2,"x":905,"y":160},{"s":2,"x":910,"y":80},{"s":2,"x":915,"y":100},{"s":2,"x":920,"y":160},{"s":2,"x":926,"y":90},{"s":2,"x":934,"y":60},{"s":2,"x":942,"y":50},{"s":2,"x":948,"y":55},{"s":2,"x":954,"y":50},{"s":2,"x":960,"y":100},{"s":2,"x":965,"y":180},{"s":2,"x":970,"y":160},{"s":2,"x":975,"y":175},{"s":2,"x":980,"y":100},{"s":2,"x":985,"y":60},{"s":2,"x":992,"y":65},{"s":2,"x":996,"y":90},{"s":2,"x":1000,"y":185}
]
},
"concat": [
{
"width": 400, "height": 283,
"encoding": {
"x": {"field": "x", "type": "quantitative", "scale": {"domain": [-135, 1065], "nice": false, "zero": false}, "axis": null},
"y": {"field": "y", "type": "quantitative", "scale": {"domain": [-246, 603], "nice": false, "zero": false}, "axis": null}
},
"layer": [
{"data": {"values": [{"x": 264, "x2": 756, "y": 486, "y2": -60}]}, "mark": {"type": "rect", "color": "#d3d3d3"}, "encoding": {"x2": {"field": "x2"}, "y2": {"field": "y2"}}},
{"data": {"name": "a"}, "mark": {"type": "line", "color": "#000", "strokeWidth": 1.1}, "encoding": {"detail": {"field": "s", "type": "nominal"}}},
{"data": {"values": [{"x": -24, "x2": -24, "y": 21, "y2": -54}, {"x": -24, "x2": 72, "y": -54, "y2": -54}]}, "mark": {"type": "rule", "color": "#000", "strokeWidth": 1.3}, "encoding": {"x2": {"field": "x2"}, "y2": {"field": "y2"}}},
{"data": {"values": [{"x": -129, "y": 555, "t": "A"}]}, "mark": {"type": "text", "font": "Liberation Sans", "fontWeight": "bold", "fontSize": 21, "align": "left", "baseline": "alphabetic"}, "encoding": {"text": {"field": "t"}}},
{"data": {"values": [{"x": 189, "y": 524, "t": "PTX-pretreated"}, {"x": 510, "y": 429, "t": "OFQ 100pM"}]}, "mark": {"type": "text", "font": "Open Sans", "fontSize": 16, "align": "center", "baseline": "alphabetic"}, "encoding": {"text": {"field": "t"}}},
{"data": {"values": [{"x": -36, "y": -9, "t": "200 au"}]}, "mark": {"type": "text", "font": "Open Sans", "fontSize": 12, "angle": 270, "align": "center", "baseline": "alphabetic"}, "encoding": {"text": {"field": "t"}}},
{"data": {"values": [{"x": -21, "y": -97, "t": "2 min"}]}, "mark": {"type": "text", "font": "Open Sans", "fontSize": 12, "align": "left", "baseline": "alphabetic"}, "encoding": {"text": {"field": "t"}}}
]
},
{
"width": 328, "height": 217,
"data": {"values": [{"c": "PTX-SFM|5 min", "v": 2.26, "hi": 2.38, "sig": ""}, {"c": "+OFQ|10 min", "v": 1.92, "hi": 2.04, "sig": "*"}, {"c": "SFM WO|5 min", "v": 2.24, "hi": 2.36, "sig": "*"}]},
"encoding": {"x": {"field": "c", "type": "nominal", "sort": null, "scale": {"paddingInner": 0.17, "paddingOuter": 0.085}, "axis": {"title": null, "ticks": false, "labelAngle": 0, "labelPadding": 5, "labelExpr": "split(datum.label, '|')", "labelFont": "Liberation Sans", "labelFontSize": 12, "labelLineHeight": 13.5, "labelColor": "#222", "labelBaseline": "top", "domainColor": "#000", "domainWidth": 1.5}}},
"layer": [
{"mark": {"type": "rule", "color": "#000", "strokeWidth": 1.3}, "encoding": {"y": {"field": "v", "type": "quantitative", "title": "peaks/min", "scale": {"domain": [0, 3], "nice": false}, "axis": {"values": [0, 1, 2, 3], "format": "d", "grid": false, "tickSize": 4, "tickColor": "#000", "labelPadding": 2, "titlePadding": 6, "domainColor": "#000", "domainWidth": 1.5, "labelFont": "Liberation Sans", "labelFontSize": 12, "labelColor": "#222", "titleFont": "Liberation Sans", "titleFontSize": 12, "titleFontWeight": "normal", "titleColor": "#222"}}, "y2": {"field": "hi"}}},
{"mark": {"type": "tick", "color": "#000", "thickness": 1.3, "size": 54}, "encoding": {"y": {"field": "hi", "type": "quantitative", "title": "peaks/min"}}},
{"mark": {"type": "bar", "fill": "#fff", "stroke": "#000", "strokeWidth": 1.6}, "encoding": {"y": {"field": "v", "type": "quantitative", "title": "peaks/min"}}},
{"transform": [{"filter": "datum.sig == '*'"}], "mark": {"type": "text", "font": "Liberation Sans", "fontSize": 26, "baseline": "alphabetic", "dy": 2}, "encoding": {"y": {"field": "hi", "type": "quantitative", "title": "peaks/min"}, "text": {"field": "sig"}}}
]
},
{
"width": 400, "height": 289,
"encoding": {
"x": {"field": "x", "type": "quantitative", "scale": {"domain": [-135, 1065], "nice": false, "zero": false}, "axis": null},
"y": {"field": "y", "type": "quantitative", "scale": {"domain": [-242, 625], "nice": false, "zero": false}, "axis": null}
},
"layer": [
{"data": {"values": [{"x": 351, "x2": 749, "y": 513, "y2": -33}]}, "mark": {"type": "rect", "color": "#d3d3d3"}, "encoding": {"x2": {"field": "x2"}, "y2": {"field": "y2"}}},
{"data": {"name": "b"}, "mark": {"type": "line", "color": "#000", "strokeWidth": 1.1}, "encoding": {"detail": {"field": "s", "type": "nominal"}}},
{"data": {"values": [{"x": -24, "x2": -24, "y": 88, "y2": -32}, {"x": -24, "x2": 42, "y": -32, "y2": -32}]}, "mark": {"type": "rule", "color": "#000", "strokeWidth": 1.3}, "encoding": {"x2": {"field": "x2"}, "y2": {"field": "y2"}}},
{"data": {"values": [{"x": 186, "x2": 750, "y": 545, "y2": 545}]}, "mark": {"type": "rule", "color": "#000", "strokeWidth": 2.5}, "encoding": {"x2": {"field": "x2"}, "y2": {"field": "y2"}}},
{"data": {"values": [{"x": -123, "y": 600, "t": "B"}]}, "mark": {"type": "text", "font": "Liberation Sans", "fontWeight": "bold", "fontSize": 21, "align": "left", "baseline": "alphabetic"}, "encoding": {"text": {"field": "t"}}},
{"data": {"values": [{"x": 459, "y": 562, "t": "IBMX 10uM + FSK 1uM"}, {"x": 558, "y": 445, "t": "OFQ 100pM"}]}, "mark": {"type": "text", "font": "Open Sans", "fontSize": 16, "align": "center", "baseline": "alphabetic"}, "encoding": {"text": {"field": "t"}}},
{"data": {"values": [{"x": -36, "y": 55, "t": "200 au"}]}, "mark": {"type": "text", "font": "Open Sans", "fontSize": 12, "angle": 270, "align": "center", "baseline": "alphabetic"}, "encoding": {"text": {"field": "t"}}},
{"data": {"values": [{"x": -21, "y": -80, "t": "2 min"}]}, "mark": {"type": "text", "font": "Open Sans", "fontSize": 12, "align": "left", "baseline": "alphabetic"}, "encoding": {"text": {"field": "t"}}}
]
},
{
"width": 328, "height": 218,
"data": {"values": [{"c": "SFM|5 min", "v": 1.67, "hi": 1.75, "sig": ""}, {"c": "IBMX + FSK|5 min", "v": 1.61, "hi": 1.69, "sig": "NS"}, {"c": "+OFQ|10 min", "v": 0.45, "hi": 0.5, "sig": "*"}, {"c": "SFM WO|5 min", "v": 1.08, "hi": 1.16, "sig": "*"}]},
"encoding": {"x": {"field": "c", "type": "nominal", "sort": null, "scale": {"paddingInner": 0.17, "paddingOuter": 0.085}, "axis": {"title": null, "ticks": false, "labelAngle": 0, "labelPadding": 5, "labelExpr": "split(datum.label, '|')", "labelFont": "Liberation Sans", "labelFontSize": 12, "labelLineHeight": 13.5, "labelColor": "#222", "labelBaseline": "top", "domainColor": "#000", "domainWidth": 1.5}}},
"layer": [
{"mark": {"type": "rule", "color": "#000", "strokeWidth": 1.3}, "encoding": {"y": {"field": "v", "type": "quantitative", "title": "peaks/min", "scale": {"domain": [0, 3], "nice": false}, "axis": {"values": [0, 1, 2, 3], "format": "d", "grid": false, "tickSize": 4, "tickColor": "#000", "labelPadding": 2, "titlePadding": 6, "domainColor": "#000", "domainWidth": 1.5, "labelFont": "Liberation Sans", "labelFontSize": 12, "labelColor": "#222", "titleFont": "Liberation Sans", "titleFontSize": 12, "titleFontWeight": "normal", "titleColor": "#222"}}, "y2": {"field": "hi"}}},
{"mark": {"type": "tick", "color": "#000", "thickness": 1.3, "size": 37}, "encoding": {"y": {"field": "hi", "type": "quantitative", "title": "peaks/min"}}},
{"mark": {"type": "bar", "fill": "#fff", "stroke": "#000", "strokeWidth": 1.6}, "encoding": {"y": {"field": "v", "type": "quantitative", "title": "peaks/min"}}},
{"transform": [{"filter": "datum.sig == '*'"}], "mark": {"type": "text", "font": "Liberation Sans", "fontSize": 26, "baseline": "alphabetic", "dy": 2}, "encoding": {"y": {"field": "hi", "type": "quantitative", "title": "peaks/min"}, "text": {"field": "sig"}}},
{"transform": [{"filter": "datum.sig == 'NS'"}], "mark": {"type": "text", "font": "Liberation Sans", "fontSize": 11, "baseline": "alphabetic", "dy": -9}, "encoding": {"y": {"field": "hi", "type": "quantitative", "title": "peaks/min"}, "text": {"field": "sig"}}}
]
},
{
"width": 400, "height": 289,
"encoding": {
"x": {"field": "x", "type": "quantitative", "scale": {"domain": [-135, 1065], "nice": false, "zero": false}, "axis": null},
"y": {"field": "y", "type": "quantitative", "scale": {"domain": [-244, 623], "nice": false, "zero": false}, "axis": null}
},
"layer": [
{"data": {"values": [{"x": 515, "x2": 1002, "y": 520, "y2": -27}]}, "mark": {"type": "rect", "color": "#d3d3d3"}, "encoding": {"x2": {"field": "x2"}, "y2": {"field": "y2"}}},
{"data": {"name": "c"}, "mark": {"type": "line", "color": "#000", "strokeWidth": 1.1}, "encoding": {"detail": {"field": "s", "type": "nominal"}}},
{"data": {"values": [{"x": -24, "x2": -24, "y": 53, "y2": -33}, {"x": -24, "x2": 72, "y": -33, "y2": -33}]}, "mark": {"type": "rule", "color": "#000", "strokeWidth": 1.3}, "encoding": {"x2": {"field": "x2"}, "y2": {"field": "y2"}}},
{"data": {"values": [{"x": 21, "x2": 999, "y": 554, "y2": 554}]}, "mark": {"type": "rule", "color": "#000", "strokeWidth": 2.5}, "encoding": {"x2": {"field": "x2"}, "y2": {"field": "y2"}}},
{"data": {"values": [{"x": -125, "y": 593, "t": "C"}]}, "mark": {"type": "text", "font": "Liberation Sans", "fontWeight": "bold", "fontSize": 21, "align": "left", "baseline": "alphabetic"}, "encoding": {"text": {"field": "t"}}},
{"data": {"values": [{"x": 111, "y": 569, "t": "Cs 5mM"}, {"x": 747, "y": 449, "t": "OFQ 100pM"}]}, "mark": {"type": "text", "font": "Open Sans", "fontSize": 16, "align": "center", "baseline": "alphabetic"}, "encoding": {"text": {"field": "t"}}},
{"data": {"values": [{"x": -39, "y": 11, "t": "200 au"}]}, "mark": {"type": "text", "font": "Open Sans", "fontSize": 12, "angle": 270, "align": "center", "baseline": "alphabetic"}, "encoding": {"text": {"field": "t"}}},
{"data": {"values": [{"x": -21, "y": -60, "t": "2 min"}]}, "mark": {"type": "text", "font": "Open Sans", "fontSize": 12, "align": "left", "baseline": "alphabetic"}, "encoding": {"text": {"field": "t"}}}
]
},
{
"width": 328, "height": 218,
"data": {"values": [{"c": "Cs-SFM|10 min", "v": 1.745, "hi": 1.81, "sig": ""}, {"c": "+OFQ|10 min", "v": 1.15, "hi": 1.21, "sig": "*"}]},
"encoding": {"x": {"field": "c", "type": "nominal", "sort": null, "scale": {"paddingInner": 0.17, "paddingOuter": 0.085}, "axis": {"title": null, "ticks": false, "labelAngle": 0, "labelPadding": 5, "labelExpr": "split(datum.label, '|')", "labelFont": "Liberation Sans", "labelFontSize": 12, "labelLineHeight": 13.5, "labelColor": "#222", "labelBaseline": "top", "domainColor": "#000", "domainWidth": 1.5}}},
"layer": [
{"mark": {"type": "rule", "color": "#000", "strokeWidth": 1.3}, "encoding": {"y": {"field": "v", "type": "quantitative", "title": "peaks/min", "scale": {"domain": [0, 3], "nice": false}, "axis": {"values": [0, 1, 2, 3], "format": "d", "grid": false, "tickSize": 4, "tickColor": "#000", "labelPadding": 2, "titlePadding": 6, "domainColor": "#000", "domainWidth": 1.5, "labelFont": "Liberation Sans", "labelFontSize": 12, "labelColor": "#222", "titleFont": "Liberation Sans", "titleFontSize": 12, "titleFontWeight": "normal", "titleColor": "#222"}}, "y2": {"field": "hi"}}},
{"mark": {"type": "tick", "color": "#000", "thickness": 1.3, "size": 68}, "encoding": {"y": {"field": "hi", "type": "quantitative", "title": "peaks/min"}}},
{"mark": {"type": "bar", "fill": "#fff", "stroke": "#000", "strokeWidth": 1.6}, "encoding": {"y": {"field": "v", "type": "quantitative", "title": "peaks/min"}}},
{"transform": [{"filter": "datum.sig == '*'"}], "mark": {"type": "text", "font": "Liberation Sans", "fontSize": 26, "baseline": "alphabetic", "dy": 2}, "encoding": {"y": {"field": "hi", "type": "quantitative", "title": "peaks/min"}, "text": {"field": "sig"}}}
]
},
{
"width": 400, "height": 248,
"encoding": {
"x": {"field": "x", "type": "quantitative", "scale": {"domain": [-135, 1065], "nice": false, "zero": false}, "axis": null},
"y": {"field": "y", "type": "quantitative", "scale": {"domain": [-113, 631], "nice": false, "zero": false}, "axis": null}
},
"layer": [
{"data": {"values": [{"x": 517, "x2": 1005, "y": 533, "y2": -15}]}, "mark": {"type": "rect", "color": "#d3d3d3"}, "encoding": {"x2": {"field": "x2"}, "y2": {"field": "y2"}}},
{"data": {"name": "d"}, "mark": {"type": "line", "color": "#000", "strokeWidth": 1.1}, "encoding": {"detail": {"field": "s", "type": "nominal"}}},
{"data": {"values": [{"x": -24, "x2": -24, "y": 245, "y2": -15}, {"x": -24, "x2": 75, "y": -15, "y2": -15}]}, "mark": {"type": "rule", "color": "#000", "strokeWidth": 1.3}, "encoding": {"x2": {"field": "x2"}, "y2": {"field": "y2"}}},
{"data": {"values": [{"x": 24, "x2": 1005, "y": 559, "y2": 559}]}, "mark": {"type": "rule", "color": "#000", "strokeWidth": 2.5}, "encoding": {"x2": {"field": "x2"}, "y2": {"field": "y2"}}},
{"data": {"values": [{"x": -123, "y": 615, "t": "D"}]}, "mark": {"type": "text", "font": "Liberation Sans", "fontWeight": "bold", "fontSize": 21, "align": "left", "baseline": "alphabetic"}, "encoding": {"text": {"field": "t"}}},
{"data": {"values": [{"x": 137, "y": 574, "t": "Ba 400uM"}, {"x": 748, "y": 466, "t": "OFQ 100pM"}]}, "mark": {"type": "text", "font": "Open Sans", "fontSize": 16, "align": "center", "baseline": "alphabetic"}, "encoding": {"text": {"field": "t"}}},
{"data": {"values": [{"x": -36, "y": 91, "t": "200 au"}]}, "mark": {"type": "text", "font": "Open Sans", "fontSize": 12, "angle": 270, "align": "center", "baseline": "alphabetic"}, "encoding": {"text": {"field": "t"}}},
{"data": {"values": [{"x": -24, "y": -65, "t": "2 min"}]}, "mark": {"type": "text", "font": "Open Sans", "fontSize": 12, "align": "left", "baseline": "alphabetic"}, "encoding": {"text": {"field": "t"}}}
]
},
{
"width": 328, "height": 217,
"data": {"values": [{"c": "Ba-SFM|10 min", "v": 1.70, "hi": 1.82, "sig": ""}, {"c": "+OFQ|10 min", "v": 1.45, "hi": 1.57, "sig": "*"}]},
"encoding": {"x": {"field": "c", "type": "nominal", "sort": null, "scale": {"paddingInner": 0.17, "paddingOuter": 0.085}, "axis": {"title": null, "ticks": false, "labelAngle": 0, "labelPadding": 5, "labelExpr": "split(datum.label, '|')", "labelFont": "Liberation Sans", "labelFontSize": 12, "labelLineHeight": 13.5, "labelColor": "#222", "labelBaseline": "top", "domainColor": "#000", "domainWidth": 1.5}}},
"layer": [
{"mark": {"type": "rule", "color": "#000", "strokeWidth": 1.3}, "encoding": {"y": {"field": "v", "type": "quantitative", "title": "peaks/min", "scale": {"domain": [0, 3], "nice": false}, "axis": {"values": [0, 1, 2, 3], "format": "d", "grid": false, "tickSize": 4, "tickColor": "#000", "labelPadding": 2, "titlePadding": 6, "domainColor": "#000", "domainWidth": 1.5, "labelFont": "Liberation Sans", "labelFontSize": 12, "labelColor": "#222", "titleFont": "Liberation Sans", "titleFontSize": 12, "titleFontWeight": "normal", "titleColor": "#222"}}, "y2": {"field": "hi"}}},
{"mark": {"type": "tick", "color": "#000", "thickness": 1.3, "size": 68}, "encoding": {"y": {"field": "hi", "type": "quantitative", "title": "peaks/min"}}},
{"mark": {"type": "bar", "fill": "#fff", "stroke": "#000", "strokeWidth": 1.6}, "encoding": {"y": {"field": "v", "type": "quantitative", "title": "peaks/min"}}},
{"transform": [{"filter": "datum.sig == '*'"}], "mark": {"type": "text", "font": "Liberation Sans", "fontSize": 26, "baseline": "alphabetic", "dy": 2}, "encoding": {"y": {"field": "hi", "type": "quantitative", "title": "peaks/min"}, "text": {"field": "sig"}}}
]
}
]
}
